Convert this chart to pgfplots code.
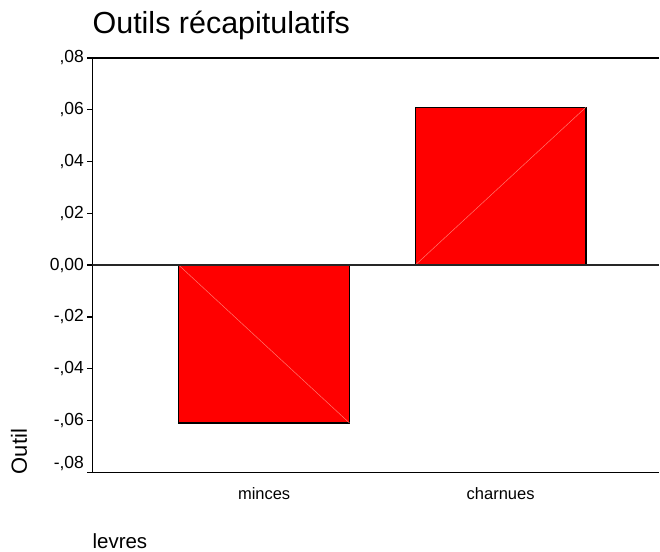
\documentclass[border=0pt]{standalone}
\usepackage{pgfplots}
\pgfplotsset{compat=1.18}
\usepackage{fontspec}
\setmainfont{Liberation Sans}
\definecolor{barred}{RGB}{255,0,0}
\definecolor{diagred}{RGB}{255,120,110}
\begin{document}
\begin{tikzpicture}
\begin{axis}[
  name=ax,
  scale only axis,
  width=567.5pt, height=414.7pt,
  xmin=-0.726, xmax=1.671,
  ymin=-0.08, ymax=0.08,
  scaled y ticks=false,
  axis x line=box, axis y line=left,
  axis line style={-, line width=1.3pt, black},
  xtick={0,1}, xticklabels={minces,charnues},
  xtick style={draw=none},
  xticklabel style={anchor=base, yshift=-22.3pt, font=\fontsize{16.5}{19}\selectfont},
  ytick={-0.06,-0.04,-0.02,0,0.02,0.04,0.06,0.08},
  yticklabels={{-{,}06},{-{,}04},{-{,}02},{0{,}00},{{,}02},{{,}04},{{,}06},{{,}08}},
  extra y ticks={-0.08},
  extra y tick labels={{-{,}08}},
  extra y tick style={yticklabel style={yshift=9pt}},
  tick align=outside,
  ytick pos=left,
  major tick length=5pt,
  ytick style={black, line width=1.3pt},
  yticklabel style={font=\fontsize{17.5}{20}\selectfont},
]
\addplot[ybar, bar width=0.722, fill=barred, draw=black, line width=1.2pt] coordinates {(0,-0.061) (1,0.061)};
\addplot[no marks, color=diagred, line width=0.5pt] coordinates {(-0.361,0) (0.361,-0.061)};
\addplot[no marks, color=diagred, line width=0.5pt] coordinates {(0.639,0) (1.361,0.061)};
\draw[line width=1.3pt, black!85] (rel axis cs:0,0.5) -- (rel axis cs:1,0.5);
\end{axis}
\node[anchor=base west, font=\fontsize{30.5}{36}\selectfont, inner sep=0pt] at ([yshift=24pt]ax.north west) {Outils récapitulatifs};
\node[anchor=base west, font=\fontsize{20.5}{24}\selectfont, inner sep=0pt] at ([yshift=-76pt]ax.south west) {levres};
\node[rotate=90, anchor=base, font=\fontsize{22}{26}\selectfont, inner sep=0pt] at ([xshift=-65.5pt, yshift=20.7pt]ax.south west) {Outil};
\path ([xshift=-92.5pt, yshift=-79.3pt]ax.south west) rectangle ([yshift=58pt]ax.north east);
\end{tikzpicture}
\end{document}
